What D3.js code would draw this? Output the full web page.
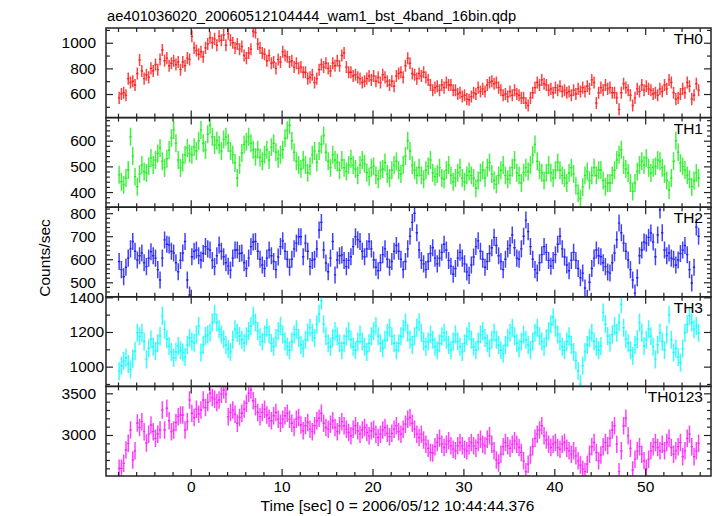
<!DOCTYPE html>
<html><head><meta charset="utf-8">
<script src="https://cdn.jsdelivr.net/npm/d3@7"></script>
<style>
body{margin:0;background:#fff}
svg{display:block}
text{font-family:"Liberation Sans",Arial,Helvetica,sans-serif;fill:#000}
</style>
</head><body><svg id="c" width="717" height="516"></svg>
<script>
const title = "ae401036020_20060512104444_wam1_bst_4band_16bin.qdp";
const xLabel = "Time [sec] 0 = 2006/05/12 10:44:44.376";
const yLabel = "Counts/sec";
const timeStart = -8, binSize = 0.25;
const panelNames = ["TH0","TH1","TH2","TH3","TH0123"];

const th0 = [
570,600,610,590,720,690,700,670,760,865,780,720,750,730,800,780,
830,790,870,943,860,880,820,840,860,830,850,790,850,820,880,870,
1050,960,940,910,930,890,960,990,1040,1000,1030,980,1050,1020,1060,980,
1070,1020,1000,960,990,950,970,900,880,920,950,1090,1080,990,960,920,
910,860,900,840,850,800,870,850,930,900,890,850,860,810,840,800,
810,770,770,720,730,750,690,720,790,830,810,840,800,780,840,820,
860,820,900,920,810,770,770,740,750,730,720,690,700,720,740,710,
740,700,730,690,750,730,700,670,700,660,740,760,770,730,820,878,
840,760,750,720,760,740,770,730,710,670,630,650,660,630,670,650,
690,670,670,630,630,600,610,580,590,560,555,580,610,600,650,620,
640,620,670,690,700,680,690,650,630,590,600,580,620,590,630,600,
590,570,570,530,510,570,610,650,690,670,710,680,670,630,640,610,
650,630,660,620,630,610,620,590,630,600,640,620,650,620,660,640,
710,690,530,610,650,630,670,640,650,610,610,570,480,610,680,650,
630,590,510,570,640,620,670,630,660,640,630,600,610,590,640,620,
670,640,710,690,610,560,570,600,640,610,690,660,560,590,680,630];

const th1 = [
467,440,428,455,486,615,540,460,421,470,505,480,474,500,533,505,
525,550,572,520,494,530,564,610,642,590,525,494,515,545,572,550,
545,575,560,600,642,590,564,625,661,615,583,600,583,560,605,615,
591,560,545,513,455,505,552,585,596,615,590,565,537,565,535,520,
545,565,525,575,590,555,530,545,565,610,640,660,600,555,520,505,
490,525,505,475,500,545,560,515,560,585,620,555,520,495,545,525,
515,485,525,495,480,505,530,505,490,465,505,525,510,475,460,495,
500,465,450,485,490,515,470,455,485,505,520,485,470,505,540,600,
560,505,485,465,495,465,450,485,500,525,475,460,470,495,455,450,
485,505,465,440,455,475,495,455,440,465,480,465,455,415,445,475,
485,455,495,515,470,445,430,465,485,505,465,450,465,495,525,475,
465,435,475,495,480,505,545,585,520,485,475,445,475,505,475,455,
485,515,485,465,455,435,475,495,470,425,395,375,420,465,480,445,
465,495,465,485,486,445,421,435,435,465,485,525,545,565,505,490,
474,435,402,435,480,505,520,505,533,495,474,495,500,525,520,495,
470,445,408,455,520,600,555,513,500,486,465,450,421,445,474,455];

const th2 = [
590,555,524,565,605,645,677,635,597,615,627,585,568,605,633,615,
605,555,510,605,684,665,662,635,627,585,546,595,627,677,510,445,
611,635,640,615,597,625,655,645,640,595,568,615,662,635,611,585,
570,553,605,640,640,625,627,585,560,605,655,675,677,635,600,575,
560,605,640,615,590,555,610,655,680,635,600,565,600,645,670,698,
698,611,670,635,568,595,600,645,727,760,640,584,546,605,677,532,
597,615,619,595,568,595,611,655,698,685,677,635,611,645,677,645,
597,565,550,585,620,645,600,565,590,635,660,635,600,555,590,645,
700,760,800,715,640,595,580,555,590,625,650,605,580,605,630,665,
640,595,570,535,560,605,630,605,580,545,530,575,610,655,680,635,
600,565,590,625,650,695,660,615,590,555,600,645,660,705,650,605,
600,645,700,770,720,655,600,555,540,585,620,655,630,595,570,595,
620,665,700,645,610,575,550,595,630,595,560,520,540,475,430,500,
560,605,640,615,611,585,568,545,540,585,627,685,757,715,670,635,
597,555,510,453,520,615,640,675,670,695,714,675,611,705,814,715,
640,615,627,605,600,575,597,625,640,660,620,555,497,565,740,700];

const th3 = [
974,1005,1032,1051,1015,984,1045,1090,1196,1175,1196,1145,1042,1105,1158,1115,
1090,1135,1177,1293,1215,1158,1119,1085,1051,1085,1119,1095,1082,1055,1125,1167,
1145,1138,1185,1235,1082,1125,1177,1185,1196,1255,1303,1255,1216,1185,1158,1125,
1100,1085,1155,1216,1195,1177,1155,1138,1175,1206,1235,1293,1255,1205,1170,1145,
1185,1225,1185,1135,1115,1165,1205,1235,1185,1145,1115,1095,1145,1185,1215,1165,
1125,1105,1155,1195,1225,1195,1165,1245,1305,1380,1245,1175,1135,1115,1165,1205,
1175,1135,1095,1135,1175,1205,1155,1115,1095,1145,1185,1145,1115,1085,1135,1175,
1205,1235,1175,1135,1105,1155,1195,1225,1175,1135,1095,1135,1175,1215,1255,1195,
1155,1125,1175,1225,1255,1195,1145,1115,1145,1185,1155,1115,1095,1135,1175,1195,
1155,1125,1095,1145,1185,1145,1115,1085,1135,1175,1205,1155,1115,1095,1145,1185,
1205,1165,1135,1105,1155,1195,1155,1125,1095,1075,1125,1165,1195,1225,1175,1135,
1105,1145,1185,1155,1125,1095,1145,1195,1225,1175,1145,1115,1165,1205,1245,1285,
1225,1185,1145,1115,1095,1145,1175,1125,1085,1035,975,900,1005,1085,1125,1165,
1195,1145,1115,1095,1119,1313,1245,1175,1138,1185,1235,1195,1255,1360,1225,1158,
1135,1095,1061,1125,1158,1254,1195,1119,1155,1216,1175,1115,1042,1125,1196,1145,
1095,1185,1300,1155,1082,1105,1055,1023,1105,1196,1245,1293,1255,1216,1235,1195];

const th0123 = [
2600,2600,2660,2820,2900,3060,2700,2810,3144,3090,3160,3040,2904,3010,3120,3040,
2960,3010,3060,3300,3060,3320,3170,3040,3060,3150,3220,3240,3240,3060,3160,3420,
3260,3210,3310,3250,3300,3420,3330,3390,3500,3450,3430,3390,3420,3490,3540,3490,
3220,3270,3300,3250,3140,3210,3260,3310,3380,3500,3540,3410,3340,3270,3220,3270,
3310,3240,3200,3170,3230,3270,3190,3140,3190,3230,3260,3190,3140,3090,3190,3210,
3120,3050,3110,3150,3070,3040,3110,3170,3200,3260,3140,3090,3070,3130,3170,3090,
3040,3110,3160,3110,3070,3030,2990,3070,3110,3050,3010,3060,3090,3030,2990,3050,
3070,3010,2970,3010,3060,3090,3020,2980,3020,3070,3110,3040,3010,3070,3130,3190,
3210,3140,3070,3010,2970,3010,2940,2890,2840,2790,2784,2860,2910,2960,2890,2850,
2890,2930,2870,2830,2810,2870,2910,2870,2830,2810,2870,2910,2870,2840,2910,2950,
2890,2870,2950,2990,2890,2810,2700,2664,2770,2860,2910,2870,2840,2890,2930,2890,
2850,2790,2690,2560,2650,2760,2860,2960,3010,3060,3110,2990,2940,2890,2850,2890,
2910,2850,2830,2890,2910,2840,2810,2770,2810,2750,2690,2640,2590,2560,2650,2770,
2860,2910,2790,2690,2760,2860,2910,2870,2960,3060,3110,2890,2560,2810,3110,3200,
2990,2840,2580,2710,2810,2860,2770,2690,2600,2710,2810,2860,2910,2850,2810,2890,
2810,2910,2960,2850,2770,2810,2860,2910,2740,2810,2960,3010,2860,2740,2810,2900];

const seriesList = [th0, th1, th2, th3, th0123];
const seriesErrors = [47, 35, 37, 52, 105];
const xTickValues = [0, 10, 20, 30, 40, 50];
const xMinorStep = 2;
const yTickValues = [[600,800,1000],[400,500,600],[500,600,700,800],[1000,1200,1400],[3000,3500]];
const yMinorSteps = [100, 20, 20, 100, 100];
const yDomains = [[416,1115],[341,690],[437,826],[886,1403],[2508,3583]];
const colors = ["#ff2020","#20f020","#2020ff","#10ffff","#ff20ff"];
const yLabelPads = [10, 10, 10, 2, 10];

// layout
const L = 106, R = 711, T = 28, B = 476;
const nP = seriesList.length;
const pH = (B - T) / nP;
const frameColor = "#222";
const majorLen = 7, minorLen = 4;

const svg = d3.select("#c");
svg.append("rect").attr("width",717).attr("height",516).attr("fill","#fff");

const x = d3.scaleLinear().domain([-9.32, 57.24]).range([L, R]);

svg.append("text").attr("x", 107).attr("y", 20.5)
  .attr("font-size", "14.7px").text(title);

const minorVals = (d0, d1, step, majors) =>
  d3.range(Math.ceil(d0 / step) * step, d1 + 1e-9, step)
    .filter(v => !majors.some(m => Math.abs(m - v) < 1e-9));

const xMinor = minorVals(x.domain()[0], x.domain()[1], xMinorStep, xTickValues);

seriesList.forEach((vals, p) => {
  const top = T + p * pH, bot = top + pH;
  const y = d3.scaleLinear().domain(yDomains[p]).range([bot, top]);
  const g = svg.append("g");

  const cid = "clip" + p;
  svg.append("clipPath").attr("id", cid).append("rect")
    .attr("x", L).attr("y", top).attr("width", R - L).attr("height", pH);

  const err = seriesErrors[p];
  const barPath = d3.path(), errPath = d3.path();
  vals.forEach((v, i) => {
    const t0 = timeStart + i * binSize, t1 = t0 + binSize, tc = t0 + binSize / 2;
    barPath.moveTo(x(t0), y(v)); barPath.lineTo(x(t1), y(v));
    errPath.moveTo(x(tc), y(v - err)); errPath.lineTo(x(tc), y(v + err));
  });
  g.append("path").attr("d", errPath.toString())
    .attr("clip-path", `url(#${cid})`)
    .attr("fill", "none").attr("stroke", colors[p]).attr("stroke-width", 1.5).attr("stroke-opacity", 0.85);
  g.append("path").attr("d", barPath.toString())
    .attr("clip-path", `url(#${cid})`)
    .attr("fill", "none").attr("stroke", colors[p]).attr("stroke-width", 1.4);

  const axB = d3.axisBottom(x).tickValues(xTickValues).tickSize(-majorLen).tickPadding(5)
    .tickFormat(p === nP - 1 ? d3.format("d") : "");
  const axBm = d3.axisBottom(x).tickValues(xMinor).tickSize(-minorLen).tickFormat("");
  const axT = d3.axisTop(x).tickValues(xTickValues).tickSize(-majorLen).tickFormat("");
  const axTm = d3.axisTop(x).tickValues(xMinor).tickSize(-minorLen).tickFormat("");
  [[axB, bot], [axBm, bot], [axT, top], [axTm, top]].forEach(([ax, yy]) => {
    const a = g.append("g").attr("transform", `translate(0,${yy})`).call(ax);
    a.select(".domain").remove();
    a.selectAll("line").attr("stroke", frameColor).attr("stroke-width", 1.2);
    a.selectAll("text").attr("font-size", "15.5px").attr("font-family", "Liberation Sans, Arial, sans-serif").attr("fill", "#000");
  });

  const ym = minorVals(yDomains[p][0], yDomains[p][1], yMinorSteps[p], yTickValues[p]);
  const axL = d3.axisLeft(y).tickValues(yTickValues[p]).tickSize(-majorLen).tickPadding(yLabelPads[p]).tickFormat(d3.format("d"));
  const axLm = d3.axisLeft(y).tickValues(ym).tickSize(-minorLen).tickFormat("");
  const axR = d3.axisRight(y).tickValues(yTickValues[p]).tickSize(-majorLen).tickFormat("");
  const axRm = d3.axisRight(y).tickValues(ym).tickSize(-minorLen).tickFormat("");
  [[axL, L], [axLm, L], [axR, R], [axRm, R]].forEach(([ax, xx]) => {
    const a = g.append("g").attr("transform", `translate(${xx},0)`).call(ax);
    a.select(".domain").remove();
    a.selectAll("line").attr("stroke", frameColor).attr("stroke-width", 1.2);
    a.selectAll("text").attr("font-size", "15.5px").attr("font-family", "Liberation Sans, Arial, sans-serif").attr("fill", "#000");
  });

  g.append("rect").attr("x", L).attr("y", top).attr("width", R - L).attr("height", pH)
    .attr("fill", "none").attr("stroke", frameColor).attr("stroke-width", 1.5);

  g.append("text").attr("x", 703).attr("y", top + 16).attr("text-anchor", "end")
    .attr("font-size", "15.5px").text(panelNames[p]);
});

svg.append("text").attr("x", 397.5).attr("y", 511).attr("text-anchor", "middle")
  .attr("font-size", "15.5px").text(xLabel);

svg.append("text").attr("transform", "translate(49.5,258) rotate(-90)")
  .attr("text-anchor", "middle").attr("font-size", "15.5px").text(yLabel);
</script>
</body></html>
